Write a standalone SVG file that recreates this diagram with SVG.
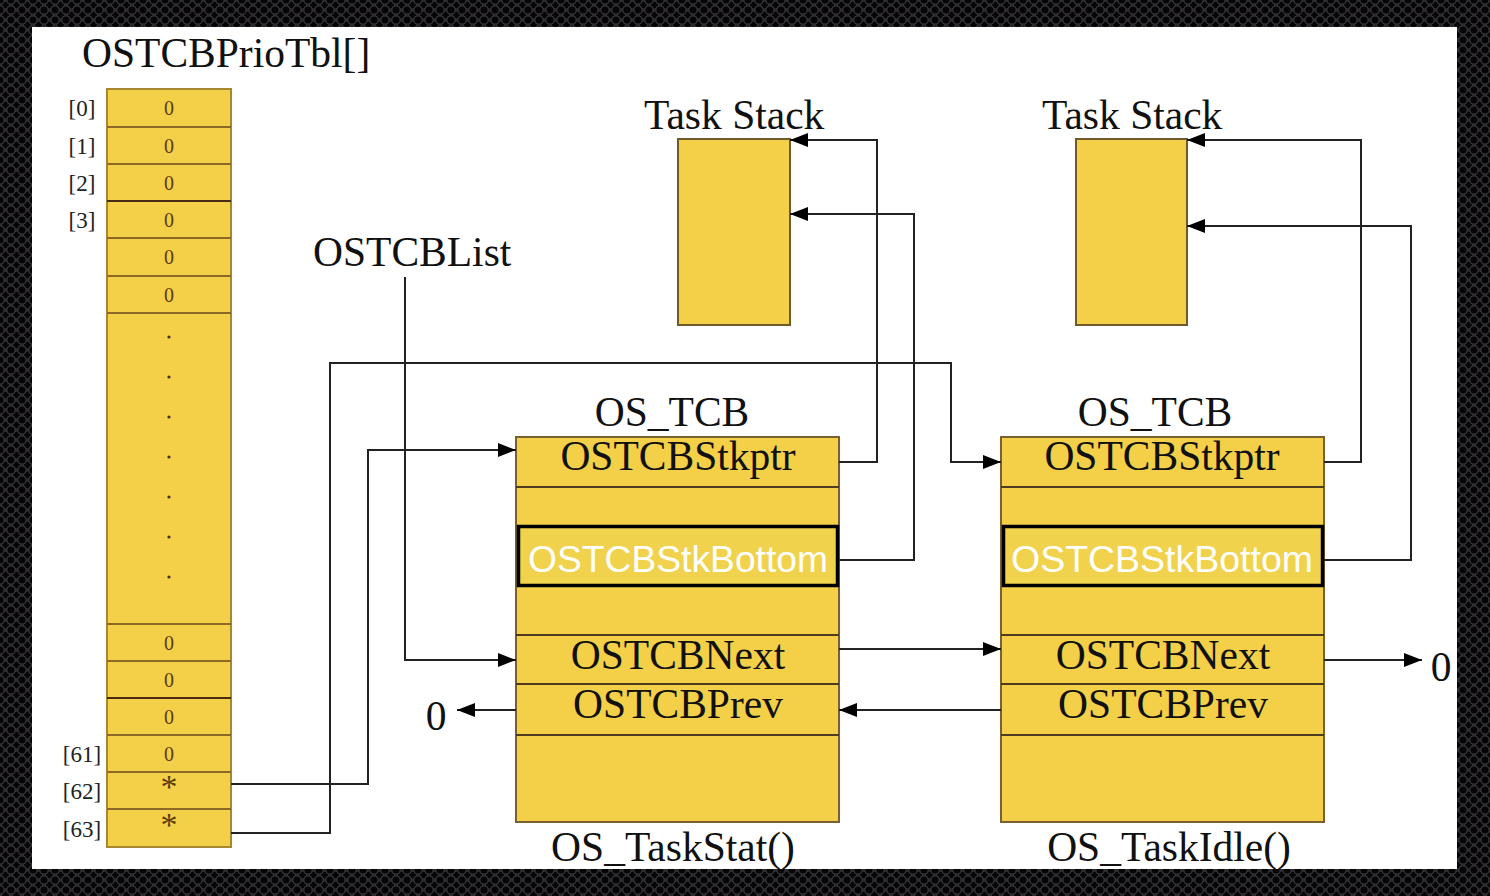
<svg xmlns="http://www.w3.org/2000/svg" width="1490" height="896" viewBox="0 0 1490 896">
  <defs>
    <!-- dark perforated-metal backdrop -->
    <pattern id="mesh" width="11" height="10" patternUnits="userSpaceOnUse">
      <rect width="11" height="10" fill="#120d0d"/>
      <circle cx="5.5" cy="5" r="4.2" fill="#060404" stroke="#34343a" stroke-width="1.3"/>
      <circle cx="0" cy="0" r="4.2" fill="#060404" stroke="#34343a" stroke-width="1.3"/>
      <circle cx="11" cy="0" r="4.2" fill="#060404" stroke="#34343a" stroke-width="1.3"/>
      <circle cx="0" cy="10" r="4.2" fill="#060404" stroke="#34343a" stroke-width="1.3"/>
      <circle cx="11" cy="10" r="4.2" fill="#060404" stroke="#34343a" stroke-width="1.3"/>
    </pattern>
    <marker id="arrow" viewBox="0 0 18 14" refX="18" refY="7" markerWidth="18" markerHeight="14" markerUnits="userSpaceOnUse" orient="auto">
      <path d="M0,0 L18,7 L0,14 Z" fill="#000"/>
    </marker>
    <style>
      .serif { font-family: "Liberation Serif", "Times New Roman", serif; fill: #111; }
      .big { font-size: 41.5px; }
      .cell { font-size: 20px; fill: #5a3c10; text-anchor: middle; }
      .star { font-size: 34px; }
      .idx { font-size: 23px; fill: #222; text-anchor: middle; }
      .mid { text-anchor: middle; }
      .tblbox { fill: #f3d048; stroke: #a8882e; stroke-width: 2; }
      .tblline { stroke: #8c6a26; stroke-width: 2; }
      .tcbbox { fill: #f3d048; stroke: #7a6030; stroke-width: 2; }
      .tcbline { stroke: #4e3a1c; stroke-width: 2; }
      .hl { fill: #f1d24c; stroke: #000; stroke-width: 3.5; }
      .hltext { font-family: "Liberation Sans", Arial, sans-serif; font-size: 37px; fill: #fff; text-anchor: middle; }
      .stack { fill: #f3d048; stroke: #6e5a2a; stroke-width: 2; }
      .wire { fill: none; stroke: #222; stroke-width: 2; }
      .dot { fill: #4a3010; }
    </style>
  </defs>

  <!-- backdrop and white sheet -->
  <rect width="1490" height="896" fill="url(#mesh)"/>
  <rect x="32" y="27" width="1425" height="842" fill="#fff"/>

  <!-- priority table -->
  <g id="prio-table">
    <text class="serif" x="82" y="67" font-size="41.5">OSTCBPrioTbl[]</text>
    <rect class="tblbox" x="107" y="89" width="124" height="758"/>
    <g class="tblline">
      <line x1="107" y1="127" x2="231" y2="127"/>
      <line x1="107" y1="164" x2="231" y2="164"/>
      <line x1="107" y1="201" x2="231" y2="201" stroke="#4a2a10"/>
      <line x1="107" y1="238" x2="231" y2="238"/>
      <line x1="107" y1="276" x2="231" y2="276"/>
      <line x1="107" y1="313" x2="231" y2="313"/>
      <line x1="107" y1="624" x2="231" y2="624"/>
      <line x1="107" y1="661" x2="231" y2="661"/>
      <line x1="107" y1="698" x2="231" y2="698" stroke="#4a2a10"/>
      <line x1="107" y1="735" x2="231" y2="735"/>
      <line x1="107" y1="772" x2="231" y2="772"/>
      <line x1="107" y1="809" x2="231" y2="809"/>
    </g>
    <g class="serif cell">
      <text x="169" y="115">0</text>
      <text x="169" y="153">0</text>
      <text x="169" y="190">0</text>
      <text x="169" y="227">0</text>
      <text x="169" y="264">0</text>
      <text x="169" y="302">0</text>
      <text x="169" y="650">0</text>
      <text x="169" y="687">0</text>
      <text x="169" y="724">0</text>
      <text x="169" y="761">0</text>
      <text class="star" x="169" y="798">*</text>
      <text class="star" x="169" y="836">*</text>
    </g>
    <g class="dot">
      <circle cx="169" cy="337" r="1.6"/>
      <circle cx="169" cy="377" r="1.6"/>
      <circle cx="169" cy="417" r="1.6"/>
      <circle cx="169" cy="457" r="1.6"/>
      <circle cx="169" cy="497" r="1.6"/>
      <circle cx="169" cy="537" r="1.6"/>
      <circle cx="169" cy="577" r="1.6"/>
    </g>
    <g class="serif idx">
      <text x="82" y="116">[0]</text>
      <text x="82" y="154">[1]</text>
      <text x="82" y="191">[2]</text>
      <text x="82" y="228">[3]</text>
      <text x="82" y="762">[61]</text>
      <text x="82" y="799">[62]</text>
      <text x="82" y="837">[63]</text>
    </g>
  </g>

  <!-- list head label -->
  <g id="tcb-list-head">
    <text class="serif big" x="313" y="266">OSTCBList</text>
  </g>

  <!-- task stacks -->
  <g id="stack-stat">
    <text class="serif big" x="644" y="129">Task Stack</text>
    <rect class="stack" x="678" y="139" width="112" height="186"/>
  </g>
  <g id="stack-idle">
    <text class="serif big" x="1042" y="129">Task Stack</text>
    <rect class="stack" x="1076" y="139" width="111" height="186"/>
  </g>

  <!-- TCB of OS_TaskStat() -->
  <g id="tcb-stat">
    <text class="serif big mid" x="672" y="426">OS_TCB</text>
    <rect class="tcbbox" x="516" y="437" width="323" height="385"/>
    <g class="tcbline">
      <line x1="516" y1="487" x2="839" y2="487"/>
      <line x1="516" y1="635" x2="839" y2="635"/>
      <line x1="516" y1="684" x2="839" y2="684"/>
      <line x1="516" y1="735" x2="839" y2="735"/>
    </g>
    <rect class="hl" x="518.5" y="526.5" width="319" height="59"/>
    <text class="serif big mid" x="678" y="470">OSTCBStkptr</text>
    <text class="hltext" x="678" y="572" textLength="300" lengthAdjust="spacingAndGlyphs">OSTCBStkBottom</text>
    <text class="serif big mid" x="678" y="669">OSTCBNext</text>
    <text class="serif big mid" x="678" y="718">OSTCBPrev</text>
    <text class="serif big mid" x="673" y="861">OS_TaskStat()</text>
  </g>

  <!-- TCB of OS_TaskIdle() -->
  <g id="tcb-idle">
    <text class="serif big mid" x="1155" y="426">OS_TCB</text>
    <rect class="tcbbox" x="1001" y="437" width="323" height="385"/>
    <g class="tcbline">
      <line x1="1001" y1="487" x2="1324" y2="487"/>
      <line x1="1001" y1="635" x2="1324" y2="635"/>
      <line x1="1001" y1="684" x2="1324" y2="684"/>
      <line x1="1001" y1="735" x2="1324" y2="735"/>
    </g>
    <rect class="hl" x="1003.5" y="526.5" width="319" height="59"/>
    <text class="serif big mid" x="1162" y="470">OSTCBStkptr</text>
    <text class="hltext" x="1162" y="572" textLength="302" lengthAdjust="spacingAndGlyphs">OSTCBStkBottom</text>
    <text class="serif big mid" x="1163" y="669">OSTCBNext</text>
    <text class="serif big mid" x="1163" y="718">OSTCBPrev</text>
    <text class="serif big mid" x="1169" y="861">OS_TaskIdle()</text>
  </g>

  <!-- null terminators -->
  <g id="null-left">
    <text class="serif big mid" x="436" y="730">0</text>
  </g>
  <g id="null-right">
    <text class="serif big mid" x="1441" y="681">0</text>
  </g>

  <!-- pointers -->
  <g id="connectors" class="wire">
    <!-- priority table entries to their TCBs -->
    <path d="M231,784 H368 V450 H516" marker-end="url(#arrow)"/>
    <path d="M231,833 H330 V363 H951 V462 H1001" marker-end="url(#arrow)"/>
    <!-- list head -->
    <path d="M405,277 V660 H516" marker-end="url(#arrow)"/>
    <!-- stack pointers of OS_TaskStat() -->
    <path d="M839,462 H877 V140 H790" marker-end="url(#arrow)"/>
    <path d="M839,560 H914 V214 H790" marker-end="url(#arrow)"/>
    <!-- stack pointers of OS_TaskIdle() -->
    <path d="M1324,462 H1361 V140 H1187" marker-end="url(#arrow)"/>
    <path d="M1324,560 H1411 V226 H1187" marker-end="url(#arrow)"/>
    <!-- doubly linked list -->
    <path d="M839,649 H1001" marker-end="url(#arrow)"/>
    <path d="M1001,710 H839" marker-end="url(#arrow)"/>
    <path d="M516,710 H457" marker-end="url(#arrow)"/>
    <path d="M1324,660 H1422" marker-end="url(#arrow)"/>
  </g>
</svg>
